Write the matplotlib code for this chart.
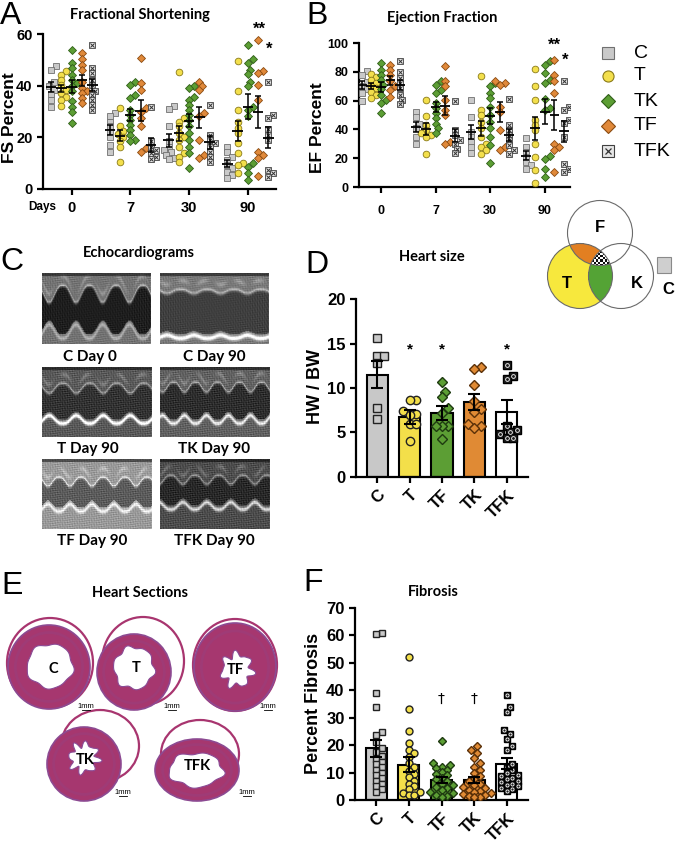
import numpy as np
import matplotlib
matplotlib.use('Agg')
import matplotlib.pyplot as plt
from matplotlib.patches import Ellipse, Polygon, Circle, Rectangle

plt.rcParams['font.family'] = ['Liberation Sans', 'DejaVu Sans']

# ---------------- data ----------------
days = ['0', '7', '30', '90']
ab_series = ['C', 'T', 'TK', 'TF', 'TFK']

fs_C = [[47.5, 46.0, 41.5, 40.0, 38.5, 36.7, 34.5, 31.7],
        [29.4, 28.1, 26.1, 24.2, 22.2, 20.3, 17.1, 14.5],
        [32.2, 31.0, 24.2, 18.5, 16.4, 15.0, 14.5, 13.2, 12.0, 11.5],
        [16.4, 14.5, 12.5, 11.3, 9.3, 8.0, 6.7, 5.4, 4.1]]
fs_T = [[45.5, 44.2, 42.3, 40.3, 38.5, 37.0, 35.8, 34.5, 32.2],
        [31.3, 24.4, 22.6, 21.3, 20.0, 18.4, 16.4, 10.6],
        [45.1, 27.4, 26.1, 24.2, 21.6, 20.3, 19.0, 16.4, 13.8, 12.5, 10.3],
        [49.4, 38.1, 30.6, 26.1, 23.5, 21.6, 17.7, 13.8, 10.0, 9.3, 6.1]]
fs_TK = [[53.9, 48.8, 46.8, 44.2, 42.3, 41.0, 39.7, 37.8, 33.9, 31.9, 30.0, 25.5],
         [41.6, 40.3, 36.5, 35.2, 30.6, 28.7, 26.8, 24.8, 22.9, 20.9, 19.0, 18.4],
         [40.0, 39.1, 35.8, 34.5, 32.6, 30.6, 28.7, 26.8, 24.2, 21.6, 19.0, 16.4, 13.8, 8.0],
         [55.9, 50.3, 48.8, 46.2, 44.6, 41.6, 40.0, 31.9, 30.6, 28.1, 10.0, 8.7, 6.1, 3.5]]
fs_TF = [[52.6, 50.3, 48.1, 46.2, 41.6, 39.1, 38.0, 37.1, 35.2, 33.2],
         [50.7, 41.0, 38.4, 31.3, 30.0, 27.4, 24.2, 15.8, 14.5],
         [41.6, 40.0, 38.4, 29.4, 28.1, 19.0, 13.2, 11.9],
         [57.5, 45.5, 44.9, 40.3, 34.5, 14.5, 13.2, 11.9, 5.0]]
fs_TFK = [[55.6, 46.8, 44.9, 42.3, 40.3, 38.1, 36.5, 34.5, 32.6, 30.6],
          [31.7, 18.4, 16.4, 15.1, 13.8, 12.5, 11.5],
          [32.6, 20.9, 19.0, 17.7, 16.4, 14.5, 12.5, 10.6],
          [41.6, 28.7, 27.4, 23.1, 20.9, 19.0, 7.4, 6.1, 4.8]]

ef_C = [[80.7, 77.9, 72.6, 70.2, 67.9, 65.1, 59.8],
        [52.3, 48.4, 43.7, 40.7, 34.9, 30.2],
        [60.5, 48.8, 38.4, 34.9, 31.4, 27.9, 23.3],
        [34.2, 27.9, 24.4, 20.9, 17.4, 15.1, 12.8]]
ef_T = [[78.6, 76.3, 74.4, 72.1, 70.2, 68.6, 66.3, 64.0, 61.6],
        [60.5, 49.3, 43.0, 39.5, 37.2, 36.0, 34.9, 22.6],
        [77.2, 53.5, 50.0, 45.3, 40.7, 34.9, 30.2, 27.9, 25.6, 22.8],
        [81.9, 69.8, 60.5, 46.5, 43.0, 39.5, 30.2, 20.9, 12.1, 2.8]]
ef_TK = [[86.0, 81.4, 77.9, 74.4, 70.9, 67.9, 64.0, 60.5, 58.1, 51.2],
         [73.3, 70.9, 67.4, 65.1, 58.1, 54.7, 51.2, 47.7, 43.7, 40.7, 37.7],
         [72.1, 69.8, 65.1, 61.6, 55.8, 50.0, 45.3, 40.7, 34.9, 29.1, 16.7],
         [87.7, 84.9, 79.5, 74.4, 72.1, 60.9, 54.7, 53.5, 21.4, 19.1, 12.8, 7.0]]
ef_TF = [[84.9, 81.4, 77.9, 73.3, 70.2, 67.4, 62.8],
         [83.7, 73.3, 69.8, 60.5, 53.5, 50.0, 31.4, 30.2],
         [73.3, 72.0, 70.9, 55.8, 52.3, 39.5, 27.9, 25.6],
         [88.4, 77.9, 73.3, 65.1, 30.2, 27.9, 25.6, 10.5]]
ef_TFK = [[87.2, 80.2, 75.6, 72.1, 68.6, 64.0, 60.5, 57.4],
          [60.0, 39.5, 36.0, 32.6, 30.2, 26.7, 23.7],
          [60.9, 43.0, 39.5, 36.0, 32.6, 29.1, 25.6, 22.8],
          [73.7, 55.8, 53.5, 46.5, 44.2, 34.9, 16.3, 12.8, 10.5]]

bar_cats = ['C', 'T', 'TF', 'TK', 'TFK']
hw_mean = [11.5, 6.7, 7.2, 8.4, 7.3]
hw_sem = [1.5, 0.8, 0.8, 0.9, 1.3]
hw_C = [15.6, 13.6, 13.6, 12.8, 7.8, 6.5]
hw_T = [8.7, 8.6, 7.4, 7.1, 7.0, 5.9, 5.9, 4.1]
hw_TF = [10.7, 9.6, 9.0, 7.7, 7.2, 5.7, 5.7, 5.7, 4.3]
hw_TK = [12.4, 12.1, 10.3, 8.5, 7.6, 7.3, 6.0, 5.7, 5.5]
hw_TFK = [12.6, 11.4, 11.0, 5.7, 5.3, 5.0, 4.8, 4.4, 4.4]

fib_mean = [18.8, 12.9, 7.4, 7.3, 13.2]
fib_sem = [3.0, 2.6, 1.1, 1.1, 2.0]
fib_C = [60.8, 60.5, 38.9, 34.0, 24.9, 23.7, 21.3, 19.0, 17.5, 16.2, 15.0, 14.0,
         13.0, 12.0, 11.0, 10.0, 9.0, 8.0, 7.0, 6.0, 5.0, 4.0, 3.0]
fib_T = [52.3, 33.1, 25.3, 20.6, 18.2, 17.0, 15.5, 13.5, 12.0, 10.5, 9.5, 8.5,
         7.0, 6.0, 5.0, 4.0, 3.0, 2.5, 2.0, 2.0]
fib_TF = [21.6, 13.4, 12.8, 12.2, 11.6, 11.0, 10.2, 9.6, 9.0, 8.2, 7.5, 6.8,
          6.0, 5.4, 4.8, 4.2, 3.6, 3.0, 2.4, 1.8, 1.5, 1.2]
fib_TK = [19.8, 18.4, 17.1, 15.3, 13.6, 12.2, 10.9, 9.7, 8.6, 7.6, 6.8, 6.0,
          5.4, 4.8, 4.2, 3.8, 3.4, 3.0, 2.6, 2.2, 1.8, 1.5, 1.2, 1.0]
fib_TFK = [38.3, 34.0, 32.2, 25.5, 24.0, 22.3, 19.6, 18.4, 13.0, 12.0, 11.0, 10.0,
           9.2, 8.6, 8.0, 7.5, 7.0, 6.5, 6.0, 5.5, 5.0, 4.5, 4.0, 3.2]

# ---------------- styles ----------------
W, H = 677, 843
fig = plt.figure(figsize=(W / 100, H / 100), dpi=100)

ax0 = fig.add_axes([0, 0, 1, 1], zorder=0)
ax0.axis('off')


def ax_px(l, t, r, b):
    a = fig.add_axes([l / W, 1 - b / H, (r - l) / W, (b - t) / H], zorder=2)
    a.patch.set_alpha(0)
    for s in ['top', 'right']:
        a.spines[s].set_visible(False)
    for s in ['left', 'bottom']:
        a.spines[s].set_linewidth(1.6)
    a.tick_params(width=1.6, length=4)
    return a


TITLE = dict(family='Lato', fontweight='bold')
mst = {'C': dict(marker='s', mfc='#c9c9c9', mec='#707070'),
       'T': dict(marker='o', mfc='#f3df4c', mec='#8a7a18'),
       'TK': dict(marker='D', mfc='#5c9e34', mec='#2f5e18'),
       'TF': dict(marker='D', mfc='#e0893a', mec='#8a4a10'),
       'TFK': dict(marker='s', mfc='#e6e6e6', mec='#404040')}


def swarm(vals, sy, sx, d):
    vals = np.asarray(vals, float)
    order = np.argsort(vals)
    pts = []
    off = np.zeros(len(vals))
    cands = [0.0]
    for k in range(1, 14):
        cands += [k * d * 0.5, -k * d * 0.5]
    for i in order:
        y = vals[i] * sy
        c = 0.0
        for c in cands:
            if all((c - px) ** 2 + (y - py) ** 2 >= (d * 0.95) ** 2 for px, py in pts):
                break
        pts.append((c, y))
        off[i] = c / sx
    return off


def scatter_panel(ax, data, sx, sy, ms=4.8):
    offs = [-0.35, -0.175, 0.0, 0.175, 0.35]
    for si, name in enumerate(ab_series):
        st = mst[name]
        for gi in range(4):
            v = np.array(data[name][gi])
            x0 = gi + offs[si]
            xs = x0 + swarm(v, sy, sx, 5.0)
            msz = ms * 0.85 if st['marker'] == 'D' else ms
            ax.plot(xs, v, ls='none', marker=st['marker'], ms=msz, mfc=st['mfc'],
                    mec=st['mec'], mew=0.6, zorder=3)
            if name == 'TFK':
                ax.plot(xs, v, ls='none', marker='x', ms=ms * 0.55, mec='#333333',
                        mew=0.7, zorder=3.5)
            m = v.mean()
            se = v.std(ddof=1) / np.sqrt(len(v))
            ax.errorbar(x0, m, yerr=se, fmt='none', ecolor='k', elinewidth=1.1,
                        capsize=2.2, capthick=1.1, zorder=5)
            ax.hlines(m, x0 - 0.09, x0 + 0.09, color='k', lw=1.3, zorder=5)


# ---------------- Panel A ----------------
axA = ax_px(43, 34, 276, 189)
scatter_panel(axA, {'C': fs_C, 'T': fs_T, 'TK': fs_TK, 'TF': fs_TF, 'TFK': fs_TFK},
              58.7, 2.58)
axA.set_xlim(-0.49, 3.48)
axA.set_ylim(0, 60)
axA.set_yticks([0, 20, 40, 60])
axA.set_xticks(range(4))
axA.set_xticklabels(days)
axA.tick_params(labelsize=10.5)
for t in axA.get_xticklabels() + axA.get_yticklabels():
    t.set_fontweight('bold')
axA.tick_params(axis='x', pad=5)

# ---------------- Panel B ----------------
axB = ax_px(359, 43, 570, 187)
scatter_panel(axB, {'C': ef_C, 'T': ef_T, 'TK': ef_TK, 'TF': ef_TF, 'TFK': ef_TFK},
              54.7, 1.44)
axB.set_xlim(-0.40, 3.46)
axB.set_ylim(0, 100)
axB.set_yticks([0, 20, 40, 60, 80, 100])
axB.set_xticks(range(4))
axB.set_xticklabels(days)
axB.tick_params(labelsize=9)
for t in axB.get_xticklabels() + axB.get_yticklabels():
    t.set_fontweight('bold')
axB.tick_params(axis='x', pad=9)

# ---------------- Panel D ----------------
bar_colors = ['#c8c8c8', '#f3df4a', '#5c9e34', '#e08a34', '#ffffff']
bar_mk = [dict(marker='s', mfc='#c8c8c8', mec='#222222'),
          dict(marker='o', mfc='#f3df4a', mec='#222222'),
          dict(marker='D', mfc='#5c9e34', mec='#1e3a10'),
          dict(marker='D', mfc='#e08a34', mec='#5a3008'),
          dict(marker='s', mfc='#1e1e1e', mec='#000000')]


def bar_panel(ax, means, sems, pts, sx, sy, ms, d):
    x = np.arange(len(bar_cats))
    ax.bar(x, means, width=0.65, color=bar_colors, edgecolor='black', linewidth=1.5,
           zorder=2)
    ax.errorbar(x, means, yerr=sems, fmt='none', ecolor='black', elinewidth=1.5,
                capsize=4, capthick=1.5, zorder=4)
    for i, v in enumerate(pts):
        v = np.array(v)
        xs = i + swarm(v, sy, sx, d)
        st = bar_mk[i]
        msz = ms * 0.85 if st['marker'] == 'D' else ms
        ax.plot(xs, v, ls='none', marker=st['marker'], ms=msz, mfc=st['mfc'],
                mec=st['mec'], mew=1.0, zorder=3)
        if i == 4:
            ax.plot(xs, v, ls='none', marker='o', ms=ms * 0.45, mfc='none',
                    mec='white', mew=0.6, zorder=3.5)
    ax.set_xticks(x)
    ax.set_xticklabels(bar_cats, rotation=45, ha='right', rotation_mode='anchor')
    ax.set_xlim(-0.65, 4.65)
    ax.tick_params(labelsize=12)
    for t in ax.get_xticklabels() + ax.get_yticklabels():
        t.set_fontweight('bold')


axD = ax_px(356, 299, 528, 477)
bar_panel(axD, hw_mean, hw_sem, [hw_C, hw_T, hw_TF, hw_TK, hw_TFK], 32.5, 8.9, 6, 6.5)
axD.set_ylim(0, 20)
axD.set_yticks([0, 5, 10, 15, 20])
for i in [1, 2, 4]:
    axD.text(i, 14.3, '*', ha='center', va='center', fontsize=11, fontweight='bold')

# ---------------- Panel F ----------------
axF = ax_px(355, 608, 528, 800)
bar_panel(axF, fib_mean, fib_sem, [fib_C, fib_T, fib_TF, fib_TK, fib_TFK], 33, 2.74, 5, 5.6)
axF.set_ylim(0, 70)
axF.set_yticks(range(0, 71, 10))
for i in [2, 3]:
    axF.text(i, 37, '\u2020', ha='center', va='center', fontsize=10,
             family=['DejaVu Sans'])

# ---------------- Canvas text ----------------
def txt(x, y, s, **kw):
    kw.setdefault('ha', 'center')
    kw.setdefault('va', 'center')
    ax0.text(x, y, s, **kw)


for (x, y, s) in [(11, 16, 'A'), (317, 16, 'B'), (12, 262, 'C'), (317, 265, 'D'),
                  (12, 586, 'E'), (313, 583, 'F')]:
    txt(x, y, s, fontsize=23)

txt(140, 15, 'Fractional Shortening', fontsize=10.5, **TITLE)
txt(442, 18, 'Ejection Fraction', fontsize=10.5, **TITLE)
txt(139, 253, 'Echocardiograms', fontsize=10.5, **TITLE)
txt(432, 257, 'Heart size', fontsize=10.5, **TITLE)
txt(140, 593, 'Heart Sections', fontsize=10.5, **TITLE)
txt(433, 592, 'Fibrosis', fontsize=10.5, **TITLE)

txt(10, 118, 'FS Percent', fontsize=12.5, fontweight='bold', rotation=90)
txt(318, 128, 'EF Percent', fontsize=12.5, fontweight='bold', rotation=90)
txt(315, 387, 'HW / BW', fontsize=13, fontweight='bold', rotation=90)
txt(313, 703, 'Percent Fibrosis', fontsize=13, fontweight='bold', rotation=90)
txt(42, 207, 'Days', fontsize=8.5, fontweight='bold')

txt(259, 29, '**', fontsize=12, fontweight='bold')
txt(269, 49, '*', fontsize=12, fontweight='bold')
txt(554, 45, '**', fontsize=12, fontweight='bold')
txt(565, 60, '*', fontsize=12, fontweight='bold')

# legend
leg_y = [53, 76, 101, 126, 151]
for name, y in zip(ab_series, leg_y):
    st = mst[name]
    ms = 8 if st['marker'] != 'D' else 7
    ax0.plot([608], [y], ls='none', marker=st['marker'], ms=ms, mfc=st['mfc'],
             mec=st['mec'], mew=0.8)
    if name == 'TFK':
        ax0.plot([608], [y], ls='none', marker='x', ms=5, mec='#333333', mew=0.9)
    txt(634, y, name, fontsize=14, ha='left')

# ---------------- Venn ----------------
xs = np.arange(540, 666, 0.5) + 0.25
ys = np.arange(195, 316, 0.5) + 0.25
X, Y = np.meshgrid(xs, ys)
cT, cF, cK, R = (580, 276), (600, 233), (621, 276), 32.5
inT = (X - cT[0]) ** 2 + (Y - cT[1]) ** 2 <= R ** 2
inF = (X - cF[0]) ** 2 + (Y - cF[1]) ** 2 <= R ** 2
inK = (X - cK[0]) ** 2 + (Y - cK[1]) ** 2 <= R ** 2
rgba = np.zeros(X.shape + (4,))
rgba[inT | inF | inK] = (1, 1, 1, 1)
rgba[inT] = (0.97, 0.91, 0.24, 1)
rgba[inT & inF] = (0.89, 0.50, 0.13, 1)
rgba[inT & inK] = (0.33, 0.64, 0.21, 1)
chk = ((np.floor(X / 2.2) + np.floor(Y / 2.2)) % 2).astype(bool)
tri = inT & inF & inK
rgba[tri & chk] = (0.05, 0.05, 0.05, 1)
rgba[tri & ~chk] = (1, 1, 1, 1)
ax0.imshow(rgba, extent=(540, 666, 316, 195), interpolation='nearest', aspect='auto',
           zorder=1)
for c in [cT, cF, cK]:
    ax0.add_patch(Circle(c, R, fill=False, ec='#6a6a6a', lw=0.8, zorder=1.5))
txt(600, 227, 'F', fontsize=12, fontweight='bold')
txt(567, 283, 'T', fontsize=12, fontweight='bold')
txt(637, 283, 'K', fontsize=12, fontweight='bold')
ax0.add_patch(Rectangle((657, 257), 14, 16, fc='#cfcfcf', ec='#8a8a8a', lw=0.8))
txt(668, 290, 'C', fontsize=12, fontweight='bold')

# ---------------- Echocardiograms ----------------
def echo_img(period, amp, top, bot, lum, wall, bright, phase=0.0, light=0.0):
    h, w = 70, 110
    y = np.arange(h)[:, None].astype(float)
    x = np.arange(w)[None, :].astype(float)
    s = (0.5 + 0.5 * np.sin(2 * np.pi * x / period + phase)) ** 1.4
    t = top + amp * s
    b = bot - amp * 0.8 * s
    img = np.full((h, w), wall + light) + 0 * x
    img = np.where((y > t) & (y < b), lum + light * 0.6, img)
    img = img + 0.28 * np.exp(-((y - t) ** 2) / 3.0)
    img = img + bright * np.exp(-((y - (b + 4)) ** 2) / 5.0)
    img = img + 0.15 * np.exp(-((y - (t - 9)) ** 2) / 6.0) * (0.5 + 0.5 * np.sin(x / 3.0))
    tex = (0.05 * np.sin(1.3 * x + 0.8 * y) * np.sin(0.7 * x - 1.9 * y)
           + 0.04 * np.sin(2.9 * y + 0.2 * x) + 0.03 * np.sin(3.7 * x))
    img = img + tex
    img[:3, :] = img[:3, :] * 0.5
    return np.clip(img, 0, 1)


echo_specs = [
    ((42, 273, 151, 344), 'C Day 0', (90, 357), dict(period=27, amp=17, top=12, bot=60, lum=0.12, wall=0.45, bright=0.25)),
    ((160, 273, 269, 344), 'C Day 90', (214, 357), dict(period=27, amp=4, top=16, bot=60, lum=0.22, wall=0.42, bright=0.6, light=0.05)),
    ((42, 367, 152, 437), 'T Day 90', (88, 449), dict(period=27, amp=10, top=16, bot=52, lum=0.2, wall=0.35, bright=0.7)),
    ((160, 367, 270, 437), 'TK Day 90', (214, 449), dict(period=22, amp=10, top=15, bot=52, lum=0.18, wall=0.38, bright=0.55, phase=1.0)),
    ((42, 459, 152, 529), 'TF Day 90', (92, 541), dict(period=22, amp=9, top=18, bot=48, lum=0.3, wall=0.5, bright=0.35, light=0.1)),
    ((160, 459, 270, 529), 'TFK Day 90', (214, 541), dict(period=24, amp=9, top=16, bot=46, lum=0.16, wall=0.3, bright=0.55, phase=2.0)),
]
for (x0, y0, x1, y1), lab, (lx, ly), kw in echo_specs:
    ax0.imshow(echo_img(**kw), extent=(x0, x1, y1, y0), cmap='gray', vmin=0, vmax=1,
               aspect='auto', interpolation='bilinear', zorder=1)
    txt(lx, ly, lab, fontsize=11, **TITLE)

# ---------------- Heart sections ----------------
def cavity(cx, cy, w, h, amp, k, ph):
    th = np.linspace(0, 2 * np.pi, 200)
    r = 1 + amp * np.sin(k * th + ph) + 0.5 * amp * np.sin((k + 3) * th)
    return np.column_stack([cx + w / 2 * r * np.cos(th), cy + h / 2 * r * np.sin(th)])


hearts = [
    ('C', (49, 667, 82, 84), (50, 666, 46, 44, 0.05, 5), (50, 663, 86, 90), (53, 669), (86, 706)),
    ('T', (134, 672, 74, 76), (134, 668, 40, 42, 0.07, 6), (143, 661, 82, 88), (136, 668), (172, 706)),
    ('TF', (235, 667, 82, 88), (237, 670, 30, 32, 0.18, 7), (235, 665, 84, 92), (235, 670), (268, 706)),
    ('TK', (84, 764, 74, 74), (84, 758, 28, 28, 0.2, 8), (100, 746, 78, 72), (85, 760), (123, 792)),
    ('TFK', (197, 770, 84, 62), (196, 770, 54, 34, 0.07, 5), (200, 754, 78, 68), (197, 766), (247, 792)),
]
for name, lv, cav, rv, lab, scale in hearts:
    ax0.add_patch(Ellipse(rv[:2], rv[2], rv[3], fc='white', ec='#a8356f', lw=1.6, zorder=1))
    ax0.add_patch(Ellipse(lv[:2], lv[2], lv[3], fc='#a6376f', ec='#8c4a92', lw=1.2, zorder=1.1))
    ax0.add_patch(Ellipse(lv[:2], lv[2] * 0.82, lv[3] * 0.82, fc='none', ec='#934384',
                          lw=2, alpha=0.35, zorder=1.15))
    ax0.add_patch(Polygon(cavity(cav[0], cav[1], cav[2], cav[3], cav[4], cav[5], 0.3),
                          closed=True, fc='white', ec='#8a4a95', lw=0.8, zorder=1.2))
    txt(lab[0], lab[1], name, fontsize=10.5, zorder=3, **TITLE)
    txt(scale[0], scale[1], '1mm', fontsize=5.5, zorder=3)
    ax0.plot([scale[0] - 4, scale[0] + 4], [scale[1] + 3.5, scale[1] + 3.5], color='k',
             lw=0.6, zorder=3)

ax0.set_xlim(0, W)
ax0.set_ylim(H, 0)

fig.savefig('out.png', dpi=100)
